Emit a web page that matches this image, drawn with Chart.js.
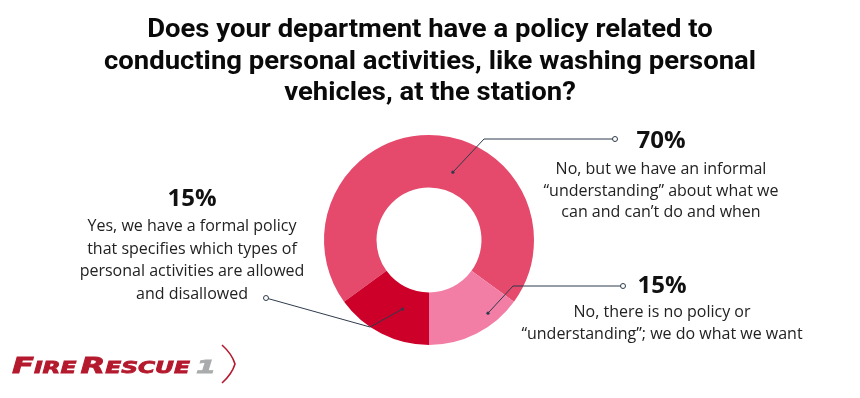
<!DOCTYPE html>
<html>
<head>
<meta charset="utf-8">
<script src="https://cdn.jsdelivr.net/npm/chart.js@4.4.1/dist/chart.umd.min.js"></script>
<style>
  html, body { margin: 0; padding: 0; background: #fff; }
  #wrap { width: 860px; height: 398px; }
</style>
</head>
<body>
<div id="wrap"><canvas id="myChart" width="860" height="398"></canvas></div>
<script>
// data
var titleLines = [
  "Does your department have a policy related to",
  "conducting personal activities, like washing personal",
  "vehicles, at the station?"
];
var answers = [
  "No, but we have an informal understanding",
  "No policy or understanding",
  "Formal policy"
];
var values = [70, 15, 15];
var colors = ['#e5496b', '#f27ea5', '#cc0029'];
var answerLines = [
  ["No, but we have an informal", "\u201cunderstanding\u201d about what we", "can and can\u2019t do and when"],
  ["No, there is no policy or", "\u201cunderstanding\u201d; we do what we want"],
  ["Yes, we have a formal policy", "that specifies which types of", "personal activities are allowed", "and disallowed"]
];

// where the callouts sit (dot inside slice, elbow, open circle, text block)
var callouts = [
  { a: 0.577, r: 0.37, elbow: [484, 139], end: [615, 139], cx: 661, pctY: 148, lineY: 174, step: 21.5 },
  { a: 0.28, r: 0.79, elbow: [513, 286], end: [623, 286], cx: 662, pctY: 293, lineY: 317, step: 21.5 },
  { a: 0.39, r: 0.41, elbow: [370, 327], end: [266, 298], cx: 192, pctY: 206, lineY: 231, step: 22.5, clip: 306 }
];

var lineColor = '#2e3b4c';

function drawLogo(ctx) {
  var big = 'italic bold 22px "DejaVu Sans"';
  var small = 'italic bold 16px "DejaVu Sans"';
  var parts = [['F', big, 0], ['IRE', small, 0], ['R', big, 4], ['ESCUE', small, 0]];
  var natural = 0;
  parts.forEach(function (p) { ctx.font = p[1]; natural += ctx.measureText(p[0]).width; });
  var sx = 174 / natural;
  ctx.save();
  ctx.fillStyle = '#b5192d';
  ctx.strokeStyle = '#b5192d';
  ctx.lineWidth = 0.8;
  ctx.textAlign = 'left';
  ctx.textBaseline = 'alphabetic';
  var x = 12;
  parts.forEach(function (p) {
    x += p[2];
    ctx.font = p[1];
    var w = ctx.measureText(p[0]).width * sx;
    ctx.save();
    ctx.translate(x, 373);
    ctx.scale(sx, 1);
    ctx.fillText(p[0], 0, 0);
    ctx.strokeText(p[0], 0, 0);
    ctx.restore();
    x += w;
  });
  ctx.font = 'italic bold 18px "DejaVu Sans"';
  ctx.fillStyle = '#a9abad';
  ctx.strokeStyle = '#a9abad';
  ctx.save();
  ctx.translate(196, 373);
  ctx.scale(1.6, 1);
  ctx.fillText('1', 0, 0);
  ctx.strokeText('1', 0, 0);
  ctx.restore();
  // chevron
  ctx.strokeStyle = '#b5192d';
  ctx.lineWidth = 1.6;
  ctx.beginPath();
  ctx.moveTo(222, 345);
  ctx.quadraticCurveTo(232, 354, 235, 364);
  ctx.quadraticCurveTo(232, 374, 222, 383);
  ctx.stroke();
  ctx.restore();
}

var annotate = {
  id: 'annotate',
  afterDraw: function (chart) {
    var ctx = chart.ctx;
    var meta = chart.getDatasetMeta(0);

    // title, stretched a little to the width of the original lettering
    ctx.save();
    ctx.fillStyle = '#0a0a0a';
    ctx.font = 'bold 25px Roboto';
    ctx.textAlign = 'center';
    ctx.textBaseline = 'alphabetic';
    var sx = 652 / ctx.measureText(titleLines[1]).width;
    titleLines.forEach(function (t, i) {
      ctx.save();
      ctx.translate(430, 37 + i * 31.5);
      ctx.scale(sx, 1);
      ctx.fillText(t, 0, 0);
      ctx.restore();
    });
    ctx.restore();

    meta.data.forEach(function (arc, i) {
      var c = callouts[i];
      var p = arc.getProps(['x', 'y', 'startAngle', 'endAngle', 'innerRadius', 'outerRadius'], true);
      var ang = p.startAngle + c.a * (p.endAngle - p.startAngle);
      var rad = p.innerRadius + c.r * (p.outerRadius - p.innerRadius);
      var dx = p.x + Math.cos(ang) * rad;
      var dy = p.y + Math.sin(ang) * rad;

      ctx.save();
      ctx.strokeStyle = lineColor;
      ctx.lineWidth = 1;
      ctx.beginPath();
      ctx.moveTo(dx, dy);
      ctx.lineTo(c.elbow[0], c.elbow[1]);
      ctx.lineTo(c.end[0], c.end[1]);
      ctx.stroke();
      ctx.fillStyle = lineColor;
      ctx.beginPath();
      ctx.arc(dx, dy, 1.6, 0, Math.PI * 2);
      ctx.fill();
      ctx.fillStyle = '#fff';
      ctx.beginPath();
      ctx.arc(c.end[0], c.end[1], 2.5, 0, Math.PI * 2);
      ctx.fill();
      ctx.stroke();

      if (c.clip) {
        ctx.beginPath();
        ctx.rect(0, 0, c.clip, 398);
        ctx.clip();
      }
      ctx.textAlign = 'center';
      ctx.textBaseline = 'alphabetic';
      ctx.fillStyle = '#111';
      ctx.font = 'bold 24px "Open Sans"';
      ctx.fillText(values[i] + '%', c.cx, c.pctY);
      ctx.fillStyle = '#222';
      ctx.font = '16px "Open Sans"';
      answerLines[i].forEach(function (t, j) { ctx.fillText(t, c.cx, c.lineY + j * c.step); });
      ctx.restore();
    });

    drawLogo(ctx);
  }
};

var config = {
  type: 'doughnut',
  data: {
    labels: answers,
    datasets: [{
      data: values,
      backgroundColor: colors,
      borderWidth: 0,
      hoverOffset: 0,
      offset: 0
    }]
  },
  options: {
    responsive: false,
    animation: false,
    rotation: 234,
    cutout: '50%',
    layout: { padding: { top: 135, bottom: 53, left: 324, right: 326 } },
    plugins: {
      legend: { display: false },
      tooltip: { enabled: false }
    }
  },
  plugins: [annotate]
};

var myChart = new Chart(document.getElementById('myChart'), config);
</script>
</body>
</html>
